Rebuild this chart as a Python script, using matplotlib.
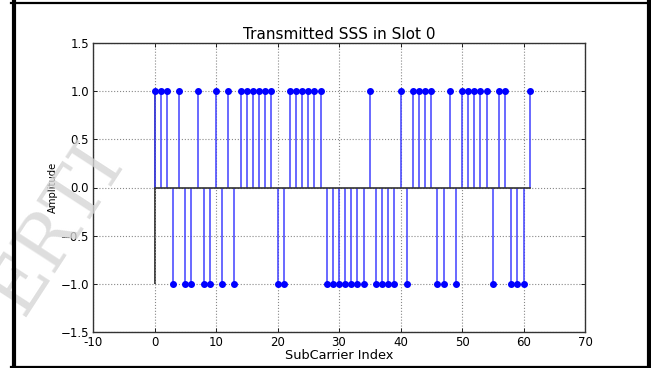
import matplotlib
matplotlib.use("Agg")
import matplotlib.pyplot as plt
from matplotlib.lines import Line2D
import numpy as np

subcarriers = list(range(62))
sss = [1, 1, 1, -1, 1, -1, -1, 1, -1, -1,
       1, -1, 1, -1, 1, 1, 1, 1, 1, 1,
       -1, -1, 1, 1, 1, 1, 1, 1, -1, -1,
       -1, -1, -1, -1, -1, 1, -1, -1, -1, -1,
       1, -1, 1, 1, 1, 1, -1, -1, 1, -1,
       1, 1, 1, 1, 1, -1, 1, 1, -1, -1,
       -1, 1]
xticks = [-10, 0, 10, 20, 30, 40, 50, 60, 70]
yticks = [-1.5, -1.0, -0.5, 0.0, 0.5, 1.0, 1.5]

W, H = 651, 368
fig = plt.figure(figsize=(W / 100, H / 100), dpi=100)
fig.patch.set_facecolor("white")
ax = fig.add_axes([93 / W, 1 - 332 / H, (585 - 93) / W, (332 - 43) / H])

# dark line at first subcarrier
ax.vlines(subcarriers[0], -1, 1, colors="#333333", linewidth=1.3, zorder=1)

markerline, stemlines, baseline = ax.stem(subcarriers, sss)
plt.setp(stemlines, color="#4040ff", linewidth=1.1)
plt.setp(markerline, color="#0000ff", markersize=4, zorder=3)
plt.setp(baseline, color="#333333", linewidth=1.2)

ax.set_xlim(-10, 70)
ax.set_ylim(-1.5, 1.5)
ax.set_xticks(xticks)
ax.set_yticks(yticks)
ax.set_xticklabels([str(t) for t in xticks], fontsize=8.5)
ax.set_yticklabels(["\u2212%.1f" % abs(t) if t < 0 else "%.1f" % t for t in yticks], fontsize=8.5)
ax.tick_params(direction="in", length=3, width=0.6, top=True, right=True, pad=3)
ax.grid(True, linestyle=":", color="#888888", linewidth=0.8)
for s in ax.spines.values():
    s.set_color("#333333")
    s.set_linewidth(1.0)

ax.set_title("Transmitted SSS in Slot 0", fontsize=11, pad=3)
ax.set_xlabel("SubCarrier Index", fontsize=9.3, labelpad=0)
ax.set_ylabel("Amplitude", fontsize=8, fontstretch="condensed", labelpad=2)

# watermark
fig.text(56 / W, 1 - 228 / H, "ERTI", fontsize=53, family="DejaVu Serif",
         color="#d6d6d6", alpha=0.8, rotation=57, ha="center", va="center", zorder=0)

# screenshot frame
def fline(x0, y0, x1, y1, lw):
    fig.add_artist(Line2D([x0 / W, x1 / W], [1 - y0 / H, 1 - y1 / H],
                          transform=fig.transFigure, color="black", linewidth=lw))

fline(11, 2.5, 651, 2.5, 1.6)
fline(13.5, 2, 13.5, 368, 3.0)
fline(648.5, 2, 648.5, 368, 3.0)
fline(11, 366.8, 651, 366.8, 1.6)

fig.savefig("out.png", dpi=100, facecolor="white")
